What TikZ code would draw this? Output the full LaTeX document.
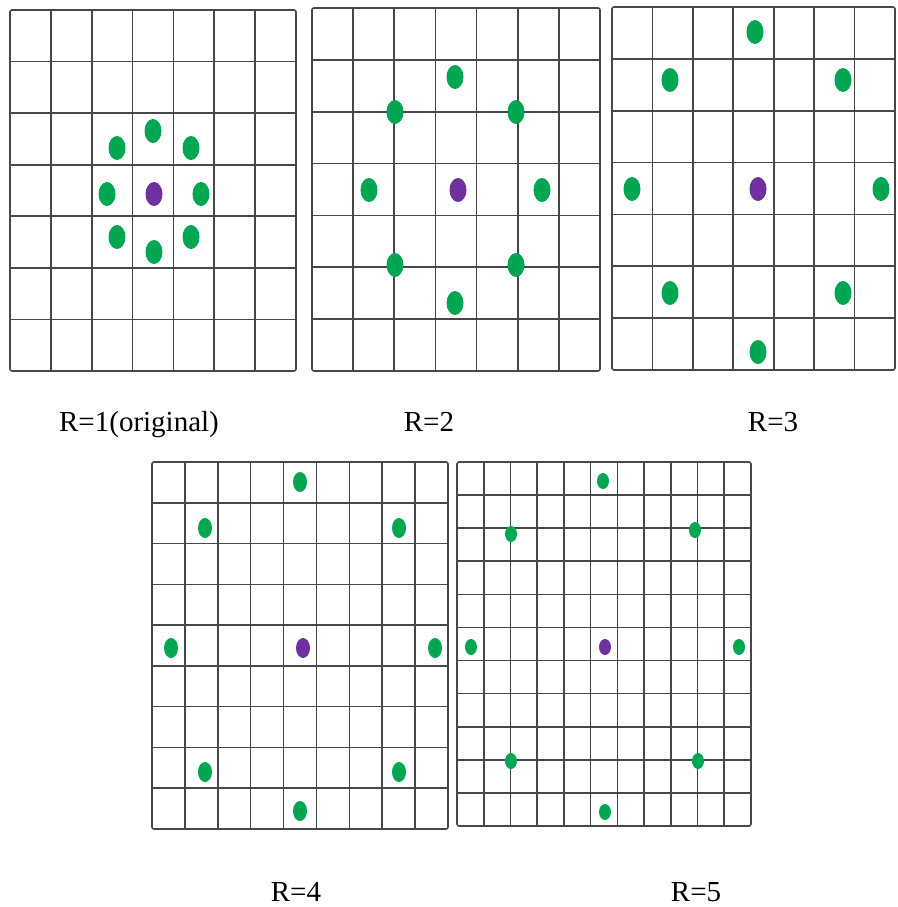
\documentclass[tikz,border=0pt]{standalone}
\usepackage{fontspec}
\setmainfont{Liberation Serif}
\definecolor{dotgreen}{RGB}{0,166,81}
\definecolor{dotpurple}{RGB}{112,48,160}
\definecolor{gridgray}{RGB}{72,72,72}

\begin{document}
\begin{tikzpicture}[x=1pt,y=-1pt,gridline/.style={draw=gridgray,line width=1.6pt},outline/.style={gridline,rounded corners=2pt},gdot/.style={fill=dotgreen},pdot/.style={fill=dotpurple},lbl/.style={font=\fontsize{29}{31}\selectfont,inner sep=0pt,anchor=base}]
\useasboundingbox (0,0) rectangle (897,907);
% grids: left/top/right/bottom/cells
\foreach \xa/\ya/\xb/\yb/\n in {10/10/296/371/7,312/8/600/371/7,612/7/895/370/7,152/462/448/829/9,457/462/751/826/11}{
  \pgfmathtruncatemacro\m{\n-1}
  \foreach \i in {1,...,\m}{
    \draw[gridline] ({\xa+(\xb-\xa)*\i/\n},\ya)--({\xa+(\xb-\xa)*\i/\n},\yb);
    \draw[gridline] (\xa,{\ya+(\yb-\ya)*\i/\n})--(\xb,{\ya+(\yb-\ya)*\i/\n});
  }
  \draw[outline] (\xa,\ya) rectangle (\xb,\yb);
}
% neighbours, R=1..3
\foreach \x/\y in {153/131,117/148,191/148,107/194,201/194,117/237,191/237,154/252,455/77,395/112,516/112,369/190,542/190,395/265,516/265,455/303,755/32,670/80,843/80,632/189,881/189,670/293,843/293,758/352}
  \fill[gdot] (\x,\y) ellipse [x radius=8.5pt,y radius=12pt];
\foreach \x/\y in {154/194,458/190,758/189}
  \fill[pdot] (\x,\y) ellipse [x radius=8.5pt,y radius=12pt];
% R=4
\foreach \x/\y in {300/482,205/528,399/528,171/648,435/648,205/772,399/772,300/811}
  \fill[gdot] (\x,\y) ellipse [x radius=7pt,y radius=10pt];
\fill[pdot] (303,648) ellipse [x radius=7pt,y radius=10pt];
% R=5
\foreach \x/\y in {603/481,511/534,695/530,471/647,739/647,511/761,698/761,605/812}
  \fill[gdot] (\x,\y) ellipse [x radius=6pt,y radius=8pt];
\fill[pdot] (605,647) ellipse [x radius=6pt,y radius=8pt];
\node[lbl] (r1) at (139,431) {R=1(original)};
\node[lbl] (r2) at (429,431) {R=2};
\node[lbl] (r3) at (773,431) {R=3};
\node[lbl] (r4) at (296,901) {R=4};
\node[lbl] (r5) at (696,901) {R=5};
\end{tikzpicture}
\end{document}
